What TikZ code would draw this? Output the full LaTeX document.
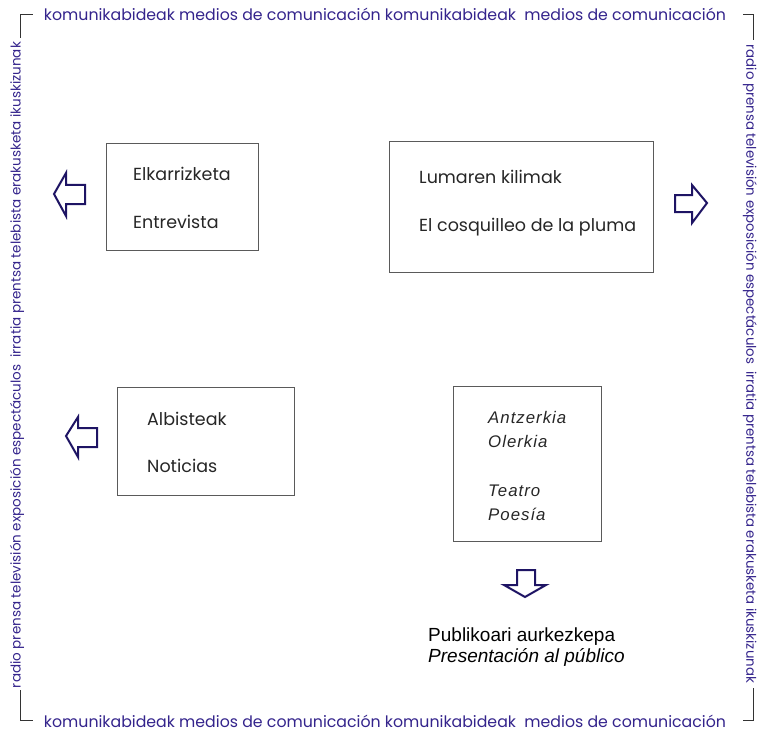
\documentclass[tikz,border=0pt]{standalone}
\usepackage{fontspec}
\setmainfont{Liberation Sans}
\newfontfamily\gothic{Poppins}
\newfontfamily\boxfont{Poppins}
\newfontfamily\spaced[LetterSpace=6]{Liberation Sans}
\definecolor{bordertxt}{RGB}{52,36,140}
\definecolor{arrowc}{RGB}{30,20,100}
\definecolor{boxc}{RGB}{90,90,90}
\tikzset{
  frameline/.style={draw=black!80, line width=0.8pt},
  bordertext/.style={inner sep=0pt, text=bordertxt, font=\gothic},
  infobox/.style={draw=boxc, line width=0.8pt},
  boxtext/.style={anchor=base west, inner sep=0pt, font=\boxfont\fontsize{17.5}{19}\selectfont, text=black!85},
  itext/.style={anchor=base west, inner sep=0pt, font=\spaced\itshape\fontsize{16.8}{18}\selectfont, text=black!85},
  pubtext/.style={anchor=base west, inner sep=0pt, font=\fontsize{19}{20}\selectfont, text=black},
  hollowarrow/.style={draw=arrowc, line width=2pt, fill=white, line join=miter}
}
\begin{document}
\begin{tikzpicture}[x=1pt,y=-1pt]
\useasboundingbox (0,0) rectangle (758,733);
% frame corners
\draw[frameline] (20,38) -- (20,14) -- (33,14);
\draw[frameline] (743,14) -- (753,14) -- (753,40);
\draw[frameline] (20,690) -- (20,720) -- (33,720);
\draw[frameline] (743,720) -- (753,720) -- (753,688);
% border texts
\node[bordertext] (toptext) at (385,14) {\resizebox{682pt}{!}{komunikabideak medios de comunicación komunikabideak\ \ medios de comunicación}};
\node[bordertext] (bottomtext) at (385,721) {\resizebox{682pt}{!}{komunikabideak medios de comunicación komunikabideak\ \ medios de comunicación}};
\node[bordertext, rotate=90] (lefttext) at (17,365) {\resizebox{646pt}{!}{radio prensa televisión exposición espectáculos\ \ irratia prentsa telebista erakusketa ikuskizunak}};
\node[bordertext, rotate=-90] (righttext) at (750,364) {\resizebox{638pt}{!}{radio prensa televisión exposición espectáculos\ \ irratia prentsa telebista erakusketa ikuskizunak}};
% boxes
\draw[infobox] (106,143) rectangle (258,250);
\node[boxtext] (elk) at (133,180) {Elkarrizketa};
\node[boxtext] (entr) at (133,228) {Entrevista};
\draw[infobox] (389,141) rectangle (653,272);
\node[boxtext] (lum) at (419,184) {Lumaren kilimak};
\node[boxtext] (cosq) at (419,231) {El cosquilleo de la pluma};
\draw[infobox] (117,387) rectangle (294,495);
\node[boxtext] (alb) at (147,425) {Albisteak};
\node[boxtext] (not) at (147,472) {Noticias};
\draw[infobox] (453,386) rectangle (601,541);
\node[itext] (ant) at (488,423) {Antzerkia};
\node[itext] (ole) at (488,447) {Olerkia};
\node[itext] (tea) at (488,496) {Teatro};
\node[itext] (poe) at (488,520) {Poesía};
% bottom text
\node[pubtext] (pub1) at (428,641) {Publikoari aurkezkepa};
\node[pubtext] (pub2) at (428,662) {\itshape Presentación al público};
% hollow arrows
\draw[hollowarrow] (54,194) -- (66,173) -- (66,185) -- (85,185) -- (85,204) -- (66,204) -- (66,216) -- cycle;
\draw[hollowarrow] (707,203) -- (692,185) -- (692,195) -- (675,195) -- (675,212) -- (692,212) -- (692,223) -- cycle;
\draw[hollowarrow] (66,436) -- (78,417) -- (78,428) -- (97,428) -- (97,447) -- (78,447) -- (78,457) -- cycle;
\draw[hollowarrow] (525,597) -- (504,585) -- (517,585) -- (517,570) -- (535,570) -- (535,585) -- (546,585) -- cycle;
\end{tikzpicture}
\end{document}
